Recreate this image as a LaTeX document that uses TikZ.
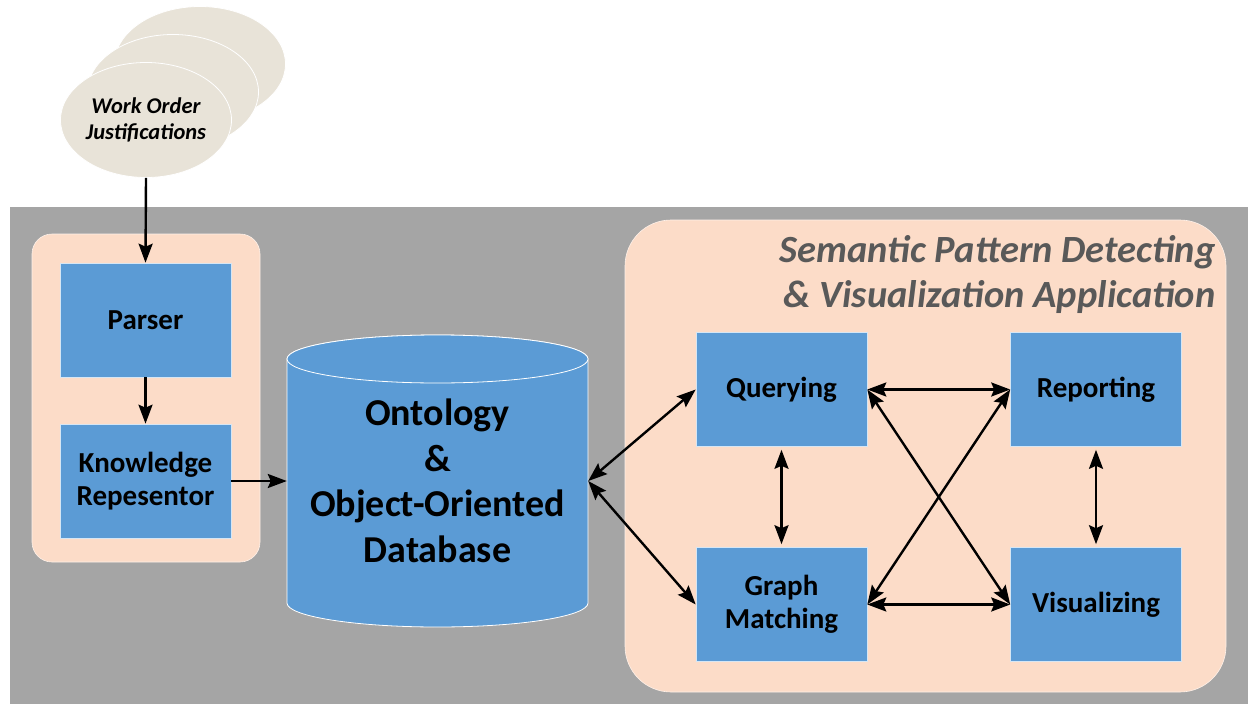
\documentclass[tikz,border=0pt]{standalone}
\usepackage{fontspec}
\setmainfont{Carlito}
\usetikzlibrary{shapes.geometric,arrows.meta}

\definecolor{panelgray}{HTML}{A5A5A5}
\definecolor{salmon}{HTML}{FCDCC8}
\definecolor{boxblue}{HTML}{5B9BD5}
\definecolor{paper}{HTML}{E8E3D8}
\definecolor{titlegray}{HTML}{595959}

\tikzset{
  box/.style={rectangle, fill=boxblue, draw=white!75!boxblue, line width=0.6pt,
    minimum width=171pt, minimum height=114pt, inner sep=2pt,
    font=\fontsize{29}{33}\selectfont\bfseries, align=center, text=black},
  doc/.style={ellipse, fill=paper, draw=white, line width=0.8pt,
    minimum width=171pt, minimum height=115pt, inner sep=0pt},
  link/.style={line width=2.4pt, -{Stealth[length=19pt,width=14pt,inset=3pt]}},
  both/.style={line width=2.4pt, {Stealth[length=19pt,width=14pt,inset=3pt]}-{Stealth[length=19pt,width=14pt,inset=3pt]}},
  area/.style={fill=salmon, draw=white!60!salmon, line width=0.6pt}
}

\begin{document}
\begin{tikzpicture}[x=1pt, y=-1pt]
\useasboundingbox (0,0) rectangle (1248,704);

% stacked documents
\node[doc] (doc3) at (200,64) {};
\node[doc] (doc2) at (173,92) {};
\node[doc, font=\fontsize{22.5}{26}\selectfont\bfseries\itshape, align=center] (doc1) at (146,120) {Work Order\\Justifications};

% grey system panel
\fill[panelgray] (10,207) rectangle (1248,704);

% containers
\path[area, rounded corners=20pt] (32,234) rectangle (260,562);
\path[area, rounded corners=46pt] (625,220) rectangle (1226,692);

% left pipeline
\node[box] (parser) at (145.5,320) {Parser};
\node[box] (krep) at (145.5,481) {Knowledge\\Repesentor};

% database cylinder
\path[fill=boxblue, draw=white, line width=0.8pt]
  (287,359) -- (287,603) arc (180:0:150.5 and 24) -- (588,359) arc (0:-180:150.5 and 24) -- cycle;
\draw[fill=boxblue, draw=white, line width=0.8pt] (437.5,359) ellipse (150.5 and 24);
\node[rectangle, minimum width=301pt, minimum height=250pt, inner sep=0pt,
  font=\fontsize{38}{45.5}\selectfont\bfseries, align=center] (db) at (437.5,481)
  {Ontology\\\&\\Object-Oriented\\Database};

% application title
\node[anchor=east, align=right, text=titlegray,
  font=\fontsize{38.5}{45}\selectfont\bfseries\itshape] (apptitle) at (1219,275)
  {Semantic Pattern Detecting\\\& Visualization Application};

% application modules
\node[box] (query) at (781.5,389.5) {Querying};
\node[box] (report) at (1096,389.5) {Reporting};
\node[box] (match) at (781.5,604.5) {Graph\\Matching};
\node[box] (visual) at (1096,604.5) {Visualizing};

% connectors
\draw[link] (doc1.south) -- (parser.north);
\draw[link] (parser.south) -- (krep.north);
\draw[link] (krep.east) -- (db.west);
\draw[both] (db.east) -- (query.west);
\draw[both] (db.east) -- (match.west);
\draw[both] ([yshift=-3pt]query.south) -- ([yshift=3pt]match.north);
\draw[both] ([yshift=-3pt]report.south) -- ([yshift=3pt]visual.north);
\draw[both] (query.east) -- (report.west);
\draw[both] (match.east) -- (visual.west);
\draw[both] (query.east) -- (visual.west);
\draw[both] (match.east) -- (report.west);
\end{tikzpicture}
\end{document}
